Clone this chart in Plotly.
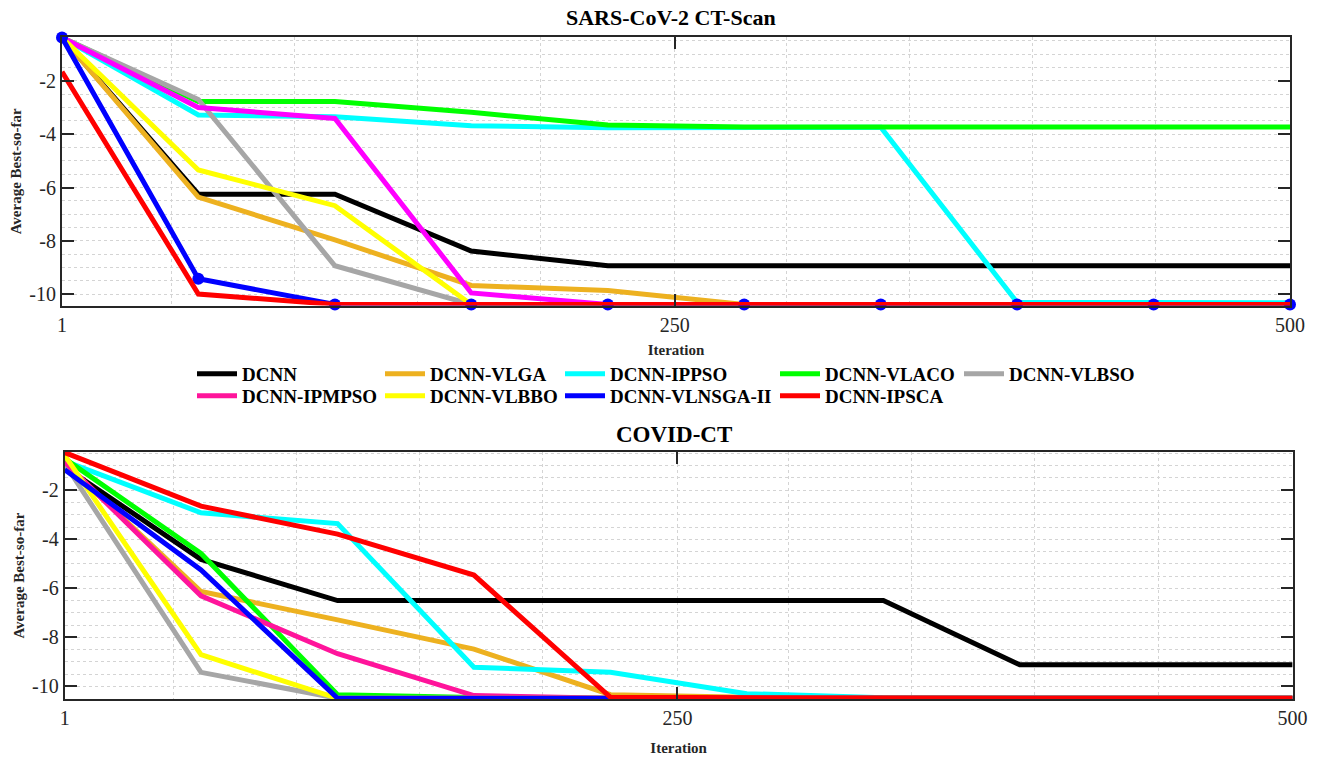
import plotly.graph_objects as go

# ---------------- data ----------------
ITER = [1, 56.4, 111.9, 167.3, 222.8, 278.2, 333.7, 389.1, 444.6, 500]

NAMES = ["DCNN", "DCNN-VLGA", "DCNN-IPPSO", "DCNN-VLACO", "DCNN-VLBSO",
         "DCNN-IPMPSO", "DCNN-VLBBO", "DCNN-VLNSGA-II", "DCNN-IPSCA"]

# SARS-CoV-2 CT-Scan (top)
SARS_DCNN = [-0.38, -6.25, -6.25, -8.38, -8.93, -8.93, -8.93, -8.93, -8.93, -8.93]
SARS_VLGA = [-0.38, -6.36, -7.96, -9.67, -9.86, -10.38, -10.38, -10.38, -10.38, -10.38]
SARS_IPPSO = [-0.38, -3.28, -3.35, -3.68, -3.76, -3.75, -3.74, -10.30, -10.31, -10.32]
SARS_VLACO = [-0.38, -2.78, -2.78, -3.18, -3.66, -3.73, -3.73, -3.73, -3.73, -3.73]
SARS_VLBSO = [-0.38, -2.70, -8.93, -10.38, -10.38, -10.38, -10.38, -10.38, -10.38, -10.38]
SARS_IPMPSO = [-0.38, -3.00, -3.41, -9.95, -10.38, -10.38, -10.38, -10.38, -10.38, -10.38]
SARS_VLBBO = [-0.38, -5.34, -6.68, -10.38, -10.38, -10.38, -10.38, -10.38, -10.38, -10.38]
SARS_VLNSGA = [-0.38, -9.42, -10.38, -10.38, -10.38, -10.38, -10.38, -10.38, -10.38, -10.38]
SARS_IPSCA = [-1.66, -9.99, -10.38, -10.38, -10.38, -10.38, -10.38, -10.38, -10.38, -10.38]

# COVID-CT (bottom)
COV_DCNN = [-1.05, -4.82, -6.50, -6.50, -6.50, -6.50, -6.50, -9.12, -9.12, -9.12]
COV_VLGA = [-0.90, -6.13, -7.29, -8.48, -10.34, -10.45, -10.49, -10.49, -10.49, -10.49]
COV_IPPSO = [-0.81, -2.92, -3.36, -9.22, -9.43, -10.30, -10.47, -10.49, -10.49, -10.49]
COV_VLACO = [-0.71, -4.58, -10.34, -10.46, -10.49, -10.49, -10.49, -10.49, -10.49, -10.49]
COV_VLBSO = [-0.91, -9.43, -10.49, -10.49, -10.49, -10.49, -10.49, -10.49, -10.49, -10.49]
COV_IPMPSO = [-0.85, -6.31, -8.67, -10.38, -10.49, -10.49, -10.49, -10.49, -10.49, -10.49]
COV_VLBBO = [-0.58, -8.71, -10.49, -10.49, -10.49, -10.49, -10.49, -10.49, -10.49, -10.49]
COV_VLNSGA = [-1.16, -5.25, -10.49, -10.49, -10.49, -10.49, -10.49, -10.49, -10.49, -10.49]
COV_IPSCA = [-0.46, -2.65, -3.79, -5.46, -10.45, -10.48, -10.49, -10.49, -10.49, -10.49]

X_TICKS = [1, 250, 500]
X_MINOR = [45.3, 95.3, 145.3, 195.3, 295.3, 345.3, 395.3, 445.3]
Y_TICKS = [-10, -8, -6, -4, -2]

TOP_SERIES = [SARS_DCNN, SARS_VLGA, SARS_IPPSO, SARS_VLACO, SARS_VLBSO,
              SARS_IPMPSO, SARS_VLBBO, SARS_VLNSGA, SARS_IPSCA]
BOT_SERIES = [COV_DCNN, COV_VLGA, COV_IPPSO, COV_VLACO, COV_VLBSO,
              COV_IPMPSO, COV_VLBBO, COV_VLNSGA, COV_IPSCA]

# ---------------- styles ----------------
TOP_COLORS = ["#000000", "#EDB120", "#00FFFF", "#00FF00", "#A6A6A6",
              "#FF00FF", "#FFFF00", "#0000FF", "#FF0000"]
BOT_COLORS = ["#000000", "#EDB120", "#00FFFF", "#00FF00", "#A6A6A6",
              "#FF149B", "#FFFF00", "#0000FF", "#FF0000"]

W, H = 1320, 760
SERIF = "Liberation Serif, Times New Roman, serif"
AX = "#262626"
GRID = "#d4d4d4"
LW = 5

# legend slot for each series: (column left px, row top px)
LEG_COL = [192, 380, 560, 775, 959, 192, 380, 560, 775]
LEG_ROW = [0, 0, 0, 0, 0, 1, 1, 1, 1]
LEG_ROW_TOP = [355, 377]
LEG_IDS = ["legend"] + ["legend%d" % k for k in range(2, 10)]

fig = go.Figure()

for i, name in enumerate(NAMES):
    is_blue = name == "DCNN-VLNSGA-II"
    fig.add_trace(go.Scatter(
        x=ITER, y=TOP_SERIES[i], name=name, xaxis="x", yaxis="y",
        mode="lines+markers" if is_blue else "lines",
        line=dict(color=TOP_COLORS[i], width=LW),
        marker=dict(size=12, color="#0000FF") if is_blue else None,
        cliponaxis=False, showlegend=False))

for i, name in enumerate(NAMES):
    fig.add_trace(go.Scatter(
        x=ITER, y=BOT_SERIES[i], name=name, xaxis="x2", yaxis="y2",
        mode="lines", line=dict(color=BOT_COLORS[i], width=LW),
        showlegend=True, legend=LEG_IDS[i]))


def px_x(p):
    return p / W


def px_y(p):
    return 1 - p / H


def xaxis(domain, anchor, standoff):
    return dict(
        domain=domain, anchor=anchor, range=[1, 500],
        tickmode="array", tickvals=X_TICKS, ticktext=[str(v) for v in X_TICKS],
        ticks="inside", ticklen=12, tickwidth=2, tickcolor=AX,
        showline=True, linecolor=AX, linewidth=2, mirror="ticks",
        showgrid=True, gridcolor=GRID, griddash="dot", gridwidth=1,
        minor=dict(tickmode="array", tickvals=X_MINOR, showgrid=True,
                   gridcolor=GRID, griddash="dot", gridwidth=1, ticks=""),
        zeroline=False,
        tickfont=dict(family=SERIF, size=20, color=AX),
        title=dict(text="Iteration", standoff=standoff,
                   font=dict(family=SERIF, size=15, color=AX, weight="bold")),
        automargin=False)


def yaxis(domain, anchor, rng):
    return dict(
        domain=domain, anchor=anchor, range=rng,
        tickmode="array", tickvals=Y_TICKS, ticktext=[str(v) for v in Y_TICKS],
        ticks="inside", ticklen=12, tickwidth=2, tickcolor=AX,
        showline=True, linecolor=AX, linewidth=2, mirror="ticks",
        showgrid=True, gridcolor=GRID, griddash="dot", gridwidth=1,
        minor=dict(dtick=0.5, tick0=0, showgrid=True,
                   gridcolor=GRID, griddash="dot", gridwidth=1, ticks=""),
        zeroline=False,
        tickfont=dict(family=SERIF, size=20, color=AX),
        title=dict(text="Average Best-so-far", standoff=4,
                   font=dict(family=SERIF, size=15, color=AX, weight="bold")),
        automargin=False)


top_x = [px_x(62), px_x(1290)]
top_y = [px_y(305.5), px_y(37.3)]
bot_x = [px_x(64.7), px_x(1292.6)]
bot_y = [px_y(699.3), px_y(452)]

leg_font = dict(family=SERIF, size=19, color="#000000", weight="bold")
legends = {}
for i, lid in enumerate(LEG_IDS):
    legends[lid] = dict(
        orientation="v", xanchor="left", yanchor="top",
        x=px_x(LEG_COL[i]), y=px_y(LEG_ROW_TOP[LEG_ROW[i]]),
        bgcolor="rgba(0,0,0,0)", borderwidth=0, font=leg_font,
        itemwidth=40, itemclick=False, itemdoubleclick=False)

fig.update_layout(
    width=W, height=H,
    margin=dict(l=0, r=0, t=0, b=0),
    paper_bgcolor="white", plot_bgcolor="white",
    xaxis=xaxis(top_x, "y", 10),
    yaxis=yaxis(top_y, "x", [-10.42, -0.37]),
    xaxis2=xaxis(bot_x, "y2", 14),
    yaxis2=yaxis(bot_y, "x2", [-10.53, -0.44]),
    annotations=[
        dict(text="SARS-CoV-2 CT-Scan", x=px_x(671), y=px_y(18), xref="paper",
             yref="paper", xanchor="center", yanchor="middle", showarrow=False,
             font=dict(family=SERIF, size=22, color="#000000", weight="bold")),
        dict(text="COVID-CT", x=px_x(674), y=px_y(434), xref="paper",
             yref="paper", xanchor="center", yanchor="middle", showarrow=False,
             font=dict(family=SERIF, size=23, color="#000000", weight="bold")),
    ],
    **legends,
)

fig.write_html("out.html", config={"displayModeBar": False},
               post_script="document.body.style.margin='0';")
